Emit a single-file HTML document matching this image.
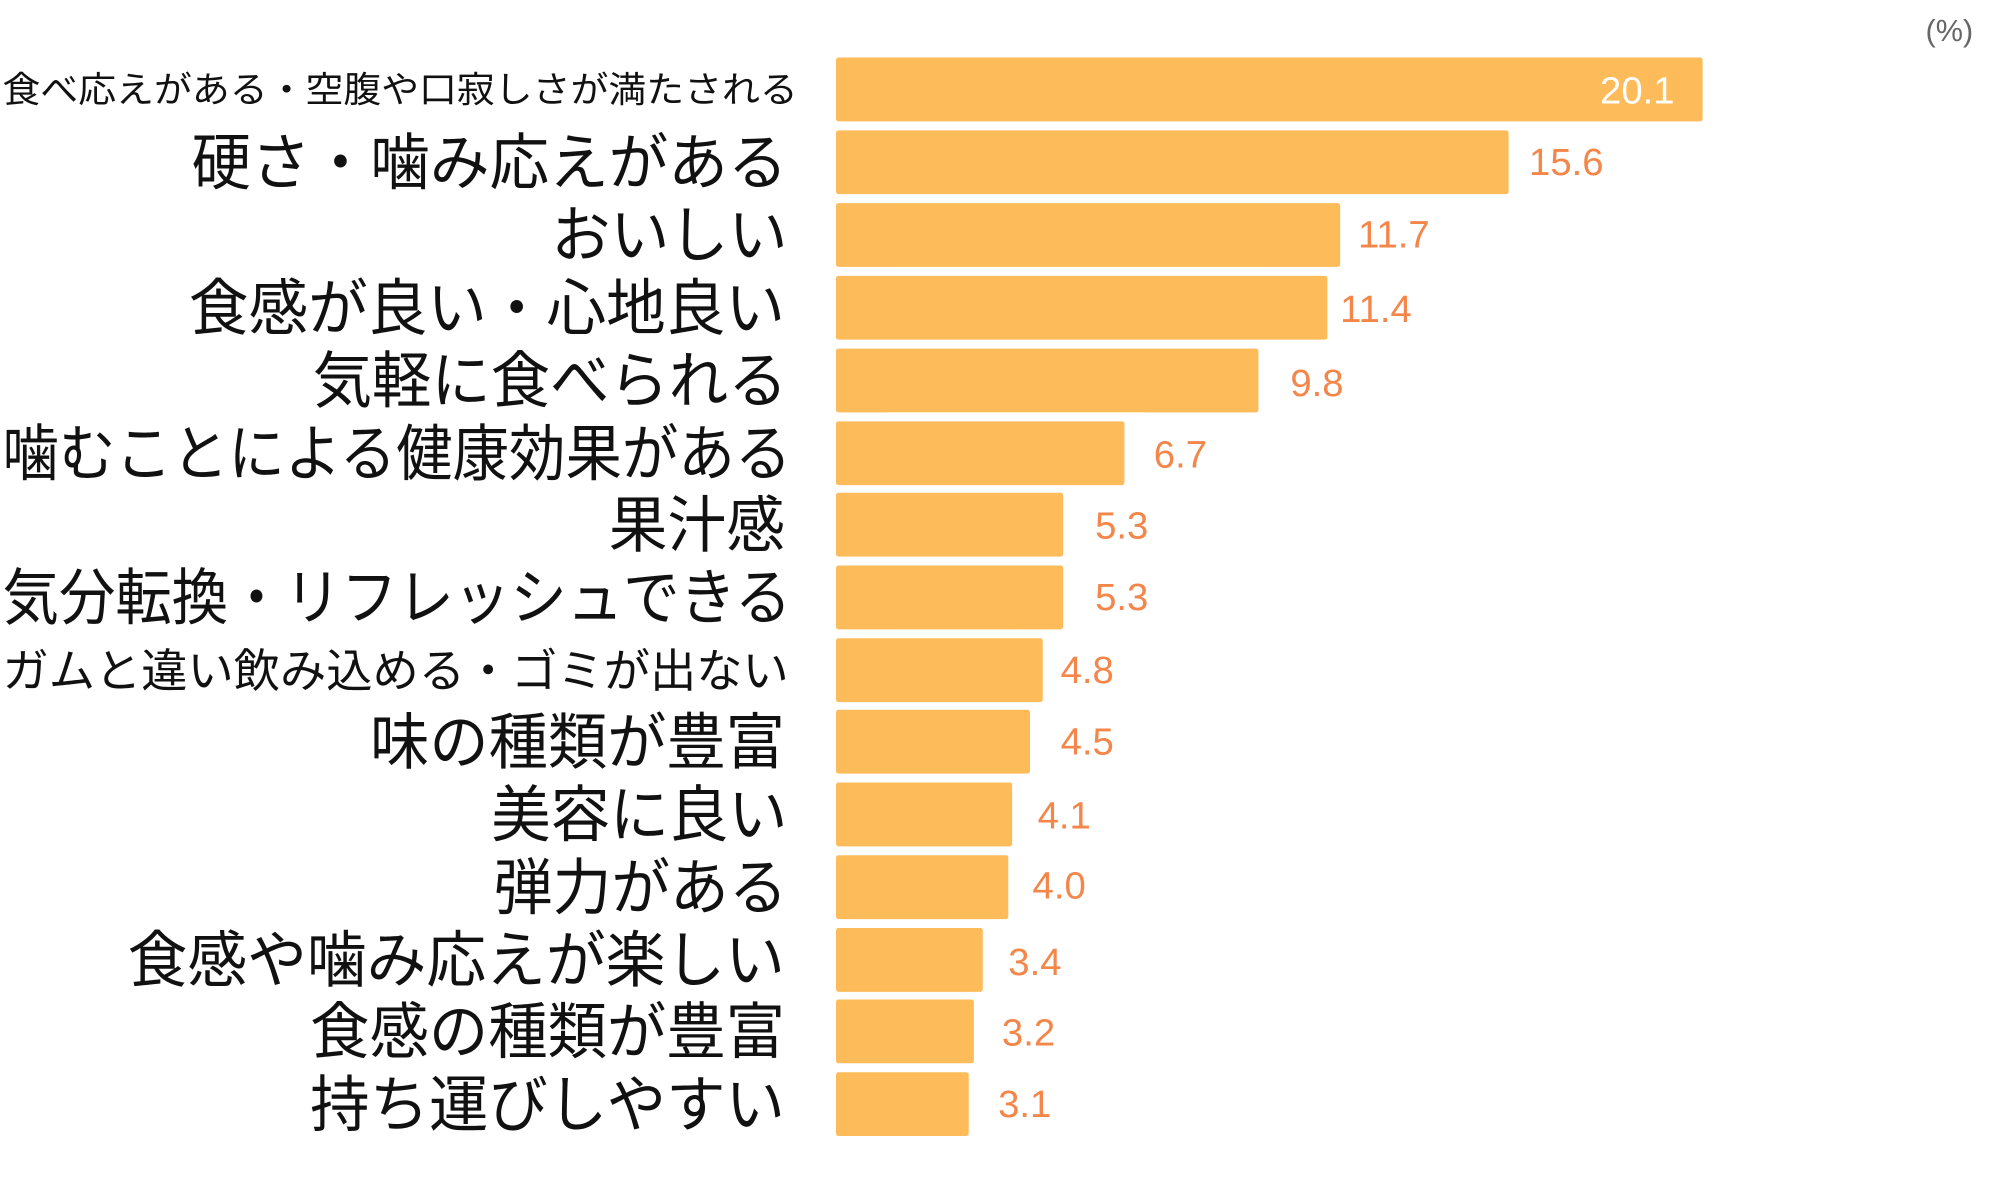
<!DOCTYPE html>
<html><head><meta charset="utf-8"><style>
html,body{margin:0;padding:0;background:#fff;width:2000px;height:1200px;overflow:hidden}
svg{display:block}
text{font-family:"Liberation Sans","Noto Sans CJK JP",sans-serif}
.l{fill:#111}
.v{fill:#f4864a;font-size:30px}
</style></head><body>
<svg width="2000" height="1200" viewBox="0 0 1567 940" xmlns="http://www.w3.org/2000/svg">
<text x="1546" y="32" text-anchor="end" style="font-size:24px;fill:#666">(%)</text>
<g fill="#fdbb5a">
<rect x="655" y="45" width="679" height="50" rx="2"/>
<rect x="655" y="102" width="527" height="50" rx="2"/>
<rect x="655" y="159" width="395" height="50" rx="2"/>
<rect x="655" y="216" width="385" height="50" rx="2"/>
<rect x="655" y="273" width="331" height="50" rx="2"/>
<rect x="655" y="330" width="226" height="50" rx="2"/>
<rect x="655" y="386" width="178" height="50" rx="2"/>
<rect x="655" y="443" width="178" height="50" rx="2"/>
<rect x="655" y="500" width="162" height="50" rx="2"/>
<rect x="655" y="556" width="152" height="50" rx="2"/>
<rect x="655" y="613" width="138" height="50" rx="2"/>
<rect x="655" y="670" width="135" height="50" rx="2"/>
<rect x="655" y="727" width="115" height="50" rx="2"/>
<rect x="655" y="783" width="108" height="50" rx="2"/>
<rect x="655" y="840" width="104" height="50" rx="2"/>
</g>
<text x="1312" y="81" text-anchor="end" style="fill:#fff;font-size:30px">20.1</text>
<text class="v" x="1198" y="137">15.6</text>
<text class="v" x="1064" y="194">11.7</text>
<text class="v" x="1050" y="252">11.4</text>
<text class="v" x="1011" y="310">9.8</text>
<text class="v" x="904" y="366">6.7</text>
<text class="v" x="858" y="422">5.3</text>
<text class="v" x="858" y="478">5.3</text>
<text class="v" x="831" y="535">4.8</text>
<text class="v" x="831" y="591">4.5</text>
<text class="v" x="813" y="649">4.1</text>
<text class="v" x="809" y="704">4.0</text>
<text class="v" x="790" y="764">3.4</text>
<text class="v" x="785" y="819">3.2</text>
<text class="v" x="782" y="875">3.1</text>
<g class="l">
<text x="2" y="80" style="font-size:28px" textLength="623" lengthAdjust="spacingAndGlyphs">食べ応えがある・空腹や口寂しさが満たされる</text>
<text x="150" y="144" style="font-size:48px" textLength="467" lengthAdjust="spacingAndGlyphs">硬さ・噛み応えがある</text>
<text x="432" y="201" style="font-size:48px" textLength="185" lengthAdjust="spacingAndGlyphs">おいしい</text>
<text x="148" y="258" style="font-size:48px" textLength="467" lengthAdjust="spacingAndGlyphs">食感が良い・心地良い</text>
<text x="245" y="315" style="font-size:48px" textLength="372" lengthAdjust="spacingAndGlyphs">気軽に食べられる</text>
<text x="2" y="372" style="font-size:48px" textLength="618" lengthAdjust="spacingAndGlyphs">噛むことによる健康効果がある</text>
<text x="477" y="428" style="font-size:48px" textLength="138" lengthAdjust="spacingAndGlyphs">果汁感</text>
<text x="2" y="485" style="font-size:48px" textLength="618" lengthAdjust="spacingAndGlyphs">気分転換・リフレッシュできる</text>
<text x="2" y="538" style="font-size:36px" textLength="616" lengthAdjust="spacingAndGlyphs">ガムと違い飲み込める・ゴミが出ない</text>
<text x="290" y="598" style="font-size:48px" textLength="325" lengthAdjust="spacingAndGlyphs">味の種類が豊富</text>
<text x="385" y="655" style="font-size:48px" textLength="232" lengthAdjust="spacingAndGlyphs">美容に良い</text>
<text x="387" y="712" style="font-size:48px" textLength="230" lengthAdjust="spacingAndGlyphs">弾力がある</text>
<text x="100" y="769" style="font-size:48px" textLength="515" lengthAdjust="spacingAndGlyphs">食感や噛み応えが楽しい</text>
<text x="243" y="825" style="font-size:48px" textLength="372" lengthAdjust="spacingAndGlyphs">食感の種類が豊富</text>
<text x="243" y="882" style="font-size:48px" textLength="372" lengthAdjust="spacingAndGlyphs">持ち運びしやすい</text>
</g>
</svg>
</body></html>
